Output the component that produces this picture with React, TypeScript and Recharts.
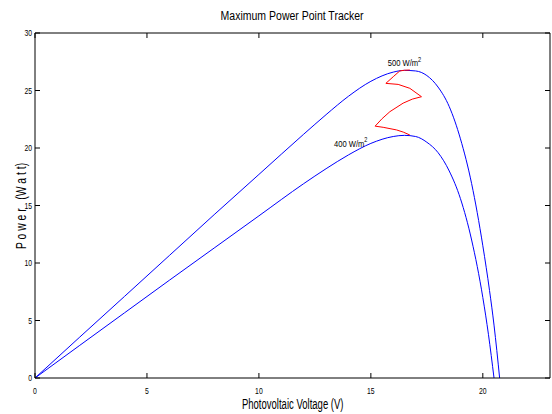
import React from 'react'
import { LineChart, Line, XAxis, YAxis, ReferenceDot } from 'recharts'

// PV curves, 500 W/m^2
const volt500 = [0, 2, 4, 6, 8, 10, 12, 13, 14, 15, 16, 16.5, 17, 17.5, 18, 18.5, 19, 19.5, 20, 20.3, 20.5, 20.75]
const power500 = [0, 3.56, 7.1, 10.65, 14.2, 17.7, 21.2, 22.9, 24.5, 25.8, 26.6, 26.75, 26.7, 26.3, 25.3, 23.6, 20.8, 16.9, 11.5, 7.6, 4.6, 0]

// PV curves, 400 W/m^2
const volt400 = [0, 2, 4, 6, 8, 10, 12, 13, 14, 15, 16, 16.5, 17, 17.5, 18, 18.5, 19, 19.5, 20, 20.25, 20.5]
const power400 = [0, 2.84, 5.67, 8.5, 11.3, 14.1, 16.9, 18.2, 19.4, 20.4, 21.0, 21.1, 21.0, 20.5, 19.6, 18.0, 15.6, 12.0, 7.0, 3.8, 0]

// MPPT trajectory (red)
const voltTrack = [16.74, 16.45, 16.15, 15.55, 15.19, 15.5, 15.85, 16.44, 16.85, 17.26, 16.74, 16.22, 15.67, 16.0, 16.29, 16.5, 16.74]
const powerTrack = [21.13, 21.38, 21.57, 21.8, 21.9, 22.55, 23.16, 23.9, 24.25, 24.46, 25.19, 25.53, 25.62, 26.2, 26.7, 26.76, 26.78]

const xTicks = [0, 5, 10, 15, 20]
const yTicks = [0, 5, 10, 15, 20, 25, 30]

const FONT = "'Liberation Sans', Arial, sans-serif"

const toRows = (v: number[], p: number[]) => v.map((x, i) => ({ v: x, p: p[i] }))

const curve500 = toRows(volt500, power500)
const curve400 = toRows(volt400, power400)
const track = toRows(voltTrack, powerTrack)

const irradianceLabel = (text: string) => (props: any) => {
  const { viewBox } = props
  const x = viewBox.x + (viewBox.width || 0) / 2
  const y = viewBox.y + (viewBox.height || 0) / 2
  return (
    <text transform={`translate(${x},${y}) scale(0.8,1)`} textAnchor="middle" fontFamily={FONT} fontSize={9.5} fill="#000">
      {text}
      <tspan dy={-4.5} fontSize={7}>2</tspan>
    </text>
  )
}

// inward tick marks, MATLAB style
const BottomTick = (props: any) => {
  const { x, y, payload } = props
  return (
    <g>
      <line x1={x} y1={y} x2={x} y2={y - 5} stroke="#000" />
      <text transform={`translate(${x},${y + 15.5}) scale(0.72,1)`} textAnchor="middle" fontFamily={FONT} fontSize={9.5} fill="#000">
        {payload.value}
      </text>
    </g>
  )
}

const LeftTick = (props: any) => {
  const { x, y, payload } = props
  return (
    <g>
      <line x1={x} y1={y} x2={x + 5} y2={y} stroke="#000" />
      <text transform={`translate(${x - 3},${y + 3.3}) scale(0.72,1)`} textAnchor="end" fontFamily={FONT} fontSize={9.5} fill="#000">
        {payload.value}
      </text>
    </g>
  )
}

const TopTick = (props: any) => {
  const { x, y } = props
  return <line x1={x} y1={y} x2={x} y2={y + 5} stroke="#000" />
}

const RightTick = (props: any) => {
  const { x, y } = props
  return <line x1={x} y1={y} x2={x - 5} y2={y} stroke="#000" />
}

export default function App() {
  return (
    <div style={{ position: 'absolute', left: 0, top: 0, width: 552, height: 414, background: '#fff' }}>
      <LineChart width={552} height={414} margin={{ top: 32, right: 1, bottom: 0, left: 0 }}>
        <XAxis
          dataKey="v"
          type="number"
          domain={[0, 23]}
          ticks={xTicks}
          height={36}
          stroke="#000"
          tickLine={false}
          tickSize={0}
          tickMargin={0}
          tick={<BottomTick />}
          allowDataOverflow
        />
        <XAxis
          xAxisId="top"
          dataKey="v"
          orientation="top"
          type="number"
          domain={[0, 23]}
          ticks={xTicks}
          height={1}
          stroke="#000"
          tickLine={false}
          tickSize={0}
          tickMargin={0}
          tick={<TopTick />}
          allowDataOverflow
        />
        <YAxis
          type="number"
          domain={[0, 30]}
          ticks={yTicks}
          width={35}
          stroke="#000"
          tickLine={false}
          tickSize={0}
          tickMargin={0}
          tick={<LeftTick />}
          allowDataOverflow
        />
        <YAxis
          yAxisId="right"
          orientation="right"
          type="number"
          domain={[0, 30]}
          ticks={yTicks}
          width={1}
          stroke="#000"
          tickLine={false}
          tickSize={0}
          tickMargin={0}
          tick={<RightTick />}
          allowDataOverflow
        />
        <Line data={curve500} dataKey="p" xAxisId="top" yAxisId="right" stroke="none" dot={false} isAnimationActive={false} />
        <Line data={curve500} dataKey="p" type="monotone" stroke="#0000ff" strokeWidth={1} dot={false} isAnimationActive={false} />
        <Line data={curve400} dataKey="p" type="monotone" stroke="#0000ff" strokeWidth={1} dot={false} isAnimationActive={false} />
        <Line data={track} dataKey="p" type="linear" stroke="#ff0000" strokeWidth={1} dot={false} isAnimationActive={false} />
        <ReferenceDot x={16.5} y={27.1} r={0} fill="none" stroke="none" label={irradianceLabel('500 W/m')} />
        <ReferenceDot x={14.1} y={20.1} r={0} fill="none" stroke="none" label={irradianceLabel('400 W/m')} />
      </LineChart>
      <div style={{ position: 'absolute', left: 35, width: 515, top: 8, textAlign: 'center', fontFamily: FONT, fontSize: 12.5, lineHeight: '16px' }}>
        <span style={{ display: 'inline-block', transform: 'scaleX(0.84)' }}>Maximum Power Point Tracker</span>
      </div>
      <div style={{ position: 'absolute', left: 35, width: 515, top: 395, textAlign: 'center', fontFamily: FONT, fontSize: 14, lineHeight: '18px' }}>
        <span style={{ display: 'inline-block', transform: 'scaleX(0.68)' }}>Photovoltaic Voltage (V)</span>
      </div>
      <div style={{ position: 'absolute', left: 21, top: 206, width: 0, height: 0 }}>
        <div
          style={{
            position: 'absolute',
            transform: 'translate(-50%, -50%) rotate(-90deg) scaleX(0.74)',
            whiteSpace: 'pre',
            fontFamily: FONT,
            fontSize: 14,
            lineHeight: '16px',
          }}
        >
          P o w e r   (W a t t)
        </div>
      </div>
    </div>
  )
}
